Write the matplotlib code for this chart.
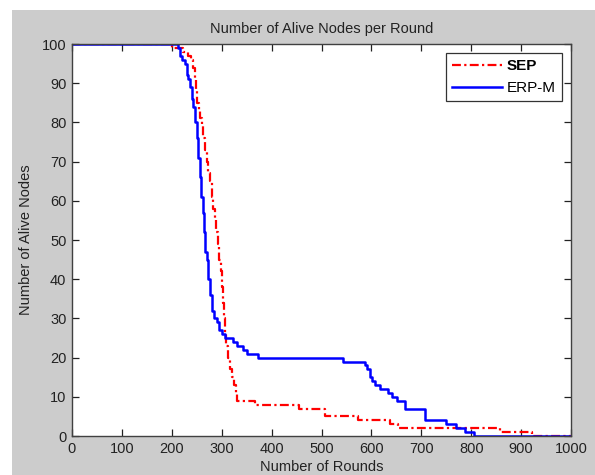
import matplotlib
matplotlib.use('Agg')
import matplotlib.pyplot as plt
from matplotlib.patches import Rectangle

plt.rcParams['font.family'] = ['Liberation Sans', 'DejaVu Sans']

# SEP (red, dash-dot): step breakpoints (round, alive nodes)
sep_rounds = [0, 200, 222, 232, 238, 243, 246, 249, 251, 254, 257, 260, 263, 266,
              270, 273, 276, 280, 283, 286, 289, 292, 295, 298, 300, 302, 304, 306,
              309, 313, 317, 320, 324, 328, 331, 367, 454, 507, 574, 637, 654, 857,
              922, 1000]
sep_alive = [100, 99, 98, 97, 96, 94, 91, 88, 85, 83, 81, 79, 76, 73,
             70, 67, 65, 61, 58, 55, 52, 49, 45, 42, 38, 34, 30, 26,
             23, 20, 17, 15, 13, 11, 9, 8, 7, 5, 4, 3, 2, 1,
             0, 0]

# ERP-M (blue, solid)
erp_rounds = [0, 213, 216, 220, 226, 230, 233, 236, 240, 243, 246, 250, 253, 256,
              259, 262, 264, 267, 270, 273, 277, 280, 284, 290, 295, 300, 306, 323,
              330, 343, 350, 373, 544, 587, 592, 597, 601, 607, 617, 634, 641, 651,
              667, 707, 749, 769, 788, 806, 1000]
erp_alive = [100, 99, 97, 96, 95, 92, 91, 89, 86, 84, 80, 76, 71, 66,
             61, 57, 52, 47, 45, 40, 36, 32, 30, 29, 27, 26, 25, 24,
             23, 22, 21, 20, 19, 18, 17, 15, 14, 13, 12, 11, 10, 9,
             7, 4, 3, 2, 1, 0, 0]

x_ticks = list(range(0, 1001, 100))
y_ticks = list(range(0, 101, 10))

fig = plt.figure(figsize=(5.95, 4.75), dpi=100)
fig.patch.set_facecolor('white')
# grey MATLAB-style figure background
fig.patches.append(Rectangle((12 / 595, 0), 1, 1 - 10 / 475,
                             transform=fig.transFigure, facecolor='#cccccc',
                             edgecolor='none', zorder=-10))

ax = fig.add_axes([72 / 595, 39 / 475, 499 / 595, 392 / 475])
ax.set_facecolor('white')

ax.step(sep_rounds, sep_alive, where='post', color='red', lw=1.6,
        dashes=(4, 1.5, 1, 1.5), label='SEP')
ax.step(erp_rounds, erp_alive, where='post', color='blue', lw=1.8,
        label='ERP-M')

ax.set_xlim(0, 1000)
ax.set_ylim(0, 100)
ax.set_xticks(x_ticks)
ax.set_yticks(y_ticks)
ax.tick_params(direction='in', top=True, right=True, length=5, width=0.9,
               labelsize=10.5, colors='#222222', pad=4)
for s in ax.spines.values():
    s.set_color('#404040')
    s.set_linewidth(1.0)

ax.set_title('Number of Alive Nodes per Round', fontsize=10.5, color='#222222', pad=8)
ax.set_xlabel('Number of Rounds', fontsize=10.5, color='#222222', labelpad=3)
ax.set_ylabel('Number of Alive Nodes', fontsize=10.5, color='#222222', labelpad=6)

leg = ax.legend(loc='upper right', fontsize=11, handlelength=3.3, frameon=True,
                fancybox=False, edgecolor='#333333', framealpha=1,
                borderaxespad=0.6, handletextpad=0.3, labelspacing=0.5)
leg.get_frame().set_linewidth(0.9)
leg.get_texts()[0].set_fontweight('bold')

fig.savefig('out.png', dpi=100, facecolor=fig.get_facecolor())
